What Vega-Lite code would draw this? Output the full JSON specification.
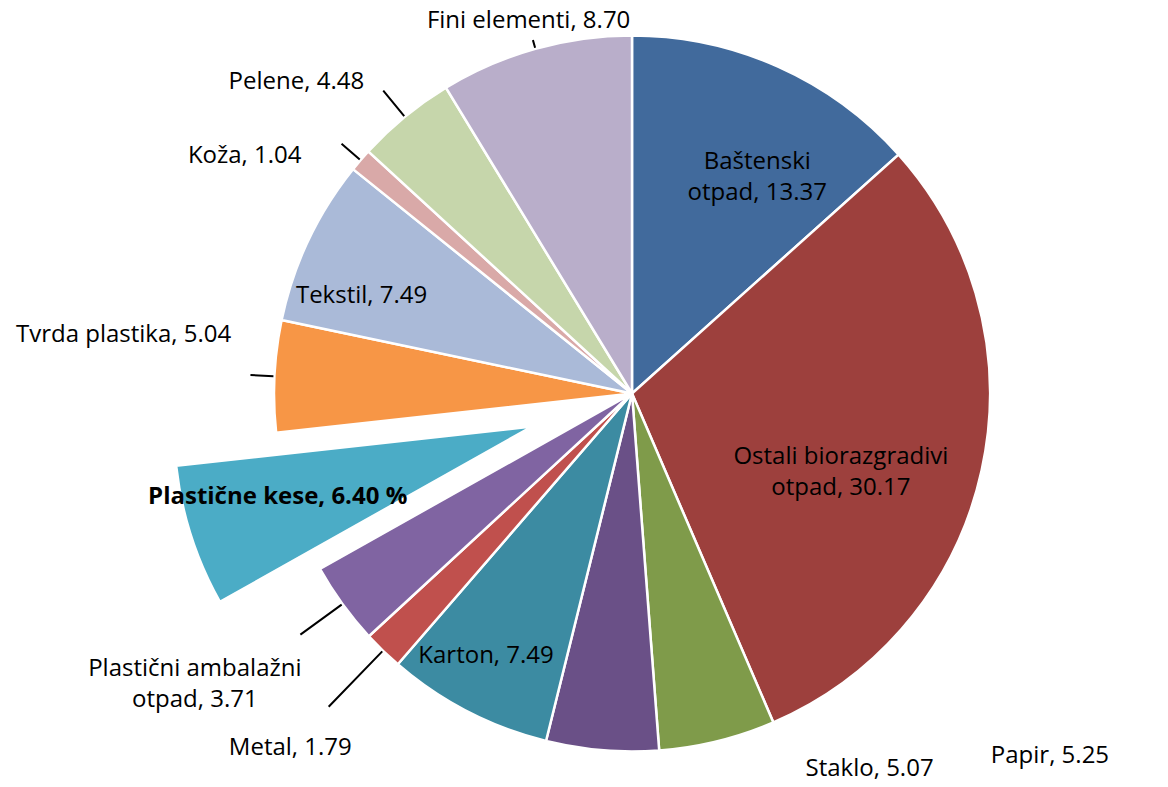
{
  "$schema": "https://vega.github.io/schema/vega-lite/v6.json",
  "width": 1072,
  "height": 787,
  "autosize": {"type": "none"},
  "padding": {"left": 96, "right": 0, "top": 0, "bottom": 0},
  "background": "white",
  "config": {"view": {"stroke": null}},
  "data": {"values": [
    {"cat": "Baštenski otpad", "value": 13.37, "label": "Baštenski\notpad, 13.37", "rank": 1},
    {"cat": "Ostali biorazgradivi otpad", "value": 30.17, "label": "Ostali biorazgradivi\notpad, 30.17", "rank": 2},
    {"cat": "Papir", "value": 5.25, "label": "Papir, 5.25", "rank": 3},
    {"cat": "Staklo", "value": 5.07, "label": "Staklo, 5.07", "rank": 4},
    {"cat": "Karton", "value": 7.49, "label": "Karton, 7.49", "rank": 5},
    {"cat": "Metal", "value": 1.79, "label": "Metal, 1.79", "rank": 6},
    {"cat": "Plastični ambalažni otpad", "value": 3.71, "label": "Plastični ambalažni\notpad, 3.71", "rank": 7},
    {"cat": "Plastične kese", "value": 6.40, "label": "Plastične kese, 6.40 %", "rank": 8},
    {"cat": "Tvrda plastika", "value": 5.04, "label": "Tvrda plastika, 5.04", "rank": 9},
    {"cat": "Tekstil", "value": 7.49, "label": "Tekstil, 7.49", "rank": 10},
    {"cat": "Koža", "value": 1.04, "label": "Koža, 1.04", "rank": 11},
    {"cat": "Pelene", "value": 4.48, "label": "Pelene, 4.48", "rank": 12},
    {"cat": "Fini elementi", "value": 8.70, "label": "Fini elementi,  8.70", "rank": 13}
  ]},
  "encoding": {
    "theta": {"field": "value", "type": "quantitative", "stack": true},
    "order": {"field": "rank", "type": "quantitative"}
  },
  "layer": [
    {
      "mark": {"type": "arc", "radius": 358, "stroke": "white", "strokeWidth": 2.5},
      "encoding": {
        "color": {"field": "cat", "type": "nominal", "legend": null,
          "scale": {
            "domain": ["Baštenski otpad", "Ostali biorazgradivi otpad", "Papir", "Staklo", "Karton", "Metal", "Plastični ambalažni otpad", "Plastične kese", "Tvrda plastika", "Tekstil", "Koža", "Pelene", "Fini elementi"],
            "range": ["#416A9C", "#9D403D", "#7F9B4A", "#6A5087", "#3C8BA2", "#C0504D", "#8064A2", "#4BACC6", "#F79646", "#AABAD8", "#D9A9A8", "#C6D6AB", "#B9AECA"]
          }},
        "opacity": {"condition": {"test": "datum.cat === 'Plastične kese'", "value": 0}, "value": 1}
      }
    },
    {
      "mark": {"type": "arc", "radius": 358, "stroke": "white", "strokeWidth": 2.5, "xOffset": -100, "yOffset": 33},
      "encoding": {
        "color": {"field": "cat", "type": "nominal", "legend": null},
        "opacity": {"condition": {"test": "datum.cat === 'Plastične kese'", "value": 1}, "value": 0}
      }
    },
    {
      "mark": {"type": "arc", "radius2": 359, "radius": 367, "padAngle": 3, "fillOpacity": 0, "stroke": "black", "strokeWidth": 2},
      "encoding": {"strokeOpacity": {"condition": {"test": "datum.cat === 'Fini elementi'", "value": 1}, "value": 0}}
    },
    {
      "mark": {"type": "arc", "radius2": 359, "radius": 392, "padAngle": 3, "fillOpacity": 0, "stroke": "black", "strokeWidth": 2},
      "encoding": {"strokeOpacity": {"condition": {"test": "datum.cat === 'Pelene'", "value": 1}, "value": 0}}
    },
    {
      "mark": {"type": "arc", "radius2": 359, "radius": 383, "padAngle": 3, "fillOpacity": 0, "stroke": "black", "strokeWidth": 2},
      "encoding": {"strokeOpacity": {"condition": {"test": "datum.cat === 'Koža'", "value": 1}, "value": 0}}
    },
    {
      "mark": {"type": "arc", "radius2": 359, "radius": 382, "padAngle": 3, "fillOpacity": 0, "stroke": "black", "strokeWidth": 2},
      "encoding": {"strokeOpacity": {"condition": {"test": "datum.cat === 'Tvrda plastika'", "value": 1}, "value": 0}}
    },
    {
      "mark": {"type": "arc", "radius2": 359, "radius": 410, "padAngle": 3, "fillOpacity": 0, "stroke": "black", "strokeWidth": 2},
      "encoding": {"strokeOpacity": {"condition": {"test": "datum.cat === 'Plastični ambalažni otpad'", "value": 1}, "value": 0}}
    },
    {
      "mark": {"type": "arc", "radius2": 359, "radius": 436, "padAngle": 3, "fillOpacity": 0, "stroke": "black", "strokeWidth": 2},
      "encoding": {"strokeOpacity": {"condition": {"test": "datum.cat === 'Metal'", "value": 1}, "value": 0}}
    },
    {
      "mark": {"type": "text", "radius": 263, "dx": 18, "dy": 9, "font": "Open Sans", "fontSize": 24, "lineHeight": 31, "lineBreak": "\n", "align": "center", "baseline": "middle", "color": "black"},
      "encoding": {"text": {"condition": {"test": "datum.cat === 'Baštenski otpad'", "field": "label"}, "value": ""}}
    },
    {
      "mark": {"type": "text", "radius": 218, "dx": -4, "dy": 17, "font": "Open Sans", "fontSize": 24, "lineHeight": 31, "lineBreak": "\n", "align": "center", "baseline": "middle", "color": "black"},
      "encoding": {"text": {"condition": {"test": "datum.cat === 'Ostali biorazgradivi otpad'", "field": "label"}, "value": ""}}
    },
    {
      "mark": {"type": "text", "radius": 553, "dx": 286, "dy": -175, "font": "Open Sans", "fontSize": 24, "lineHeight": 31, "lineBreak": "\n", "align": "center", "baseline": "middle", "color": "black"},
      "encoding": {"text": {"condition": {"test": "datum.cat === 'Papir'", "field": "label"}, "value": ""}}
    },
    {
      "mark": {"type": "text", "radius": 450, "dx": 275, "dy": -73, "font": "Open Sans", "fontSize": 24, "lineHeight": 31, "lineBreak": "\n", "align": "center", "baseline": "middle", "color": "black"},
      "encoding": {"text": {"condition": {"test": "datum.cat === 'Staklo'", "field": "label"}, "value": ""}}
    },
    {
      "mark": {"type": "text", "radius": 300, "dx": -8, "dy": -4, "font": "Open Sans", "fontSize": 24, "lineHeight": 31, "lineBreak": "\n", "align": "center", "baseline": "middle", "color": "black"},
      "encoding": {"text": {"condition": {"test": "datum.cat === 'Karton'", "field": "label"}, "value": ""}}
    },
    {
      "mark": {"type": "text", "radius": 494, "dx": 2, "dy": 0, "font": "Open Sans", "fontSize": 24, "lineHeight": 31, "lineBreak": "\n", "align": "center", "baseline": "middle", "color": "black"},
      "encoding": {"text": {"condition": {"test": "datum.cat === 'Metal'", "field": "label"}, "value": ""}}
    },
    {
      "mark": {"type": "text", "radius": 517, "dx": -19, "dy": -29, "font": "Open Sans", "fontSize": 24, "lineHeight": 31, "lineBreak": "\n", "align": "center", "baseline": "middle", "color": "black"},
      "encoding": {"text": {"condition": {"test": "datum.cat === 'Plastični ambalažni otpad'", "field": "label"}, "value": ""}}
    },
    {
      "mark": {"type": "text", "radius": 264, "dx": -103, "dy": 23, "font": "Open Sans", "fontSize": 24, "fontWeight": "bold", "lineHeight": 31, "lineBreak": "\n", "align": "center", "baseline": "middle", "color": "black"},
      "encoding": {"text": {"condition": {"test": "datum.cat === 'Plastične kese'", "field": "label"}, "value": ""}}
    },
    {
      "mark": {"type": "text", "radius": 512, "dx": 3, "dy": -34, "font": "Open Sans", "fontSize": 24, "lineHeight": 31, "lineBreak": "\n", "align": "center", "baseline": "middle", "color": "black"},
      "encoding": {"text": {"condition": {"test": "datum.cat === 'Tvrda plastika'", "field": "label"}, "value": ""}}
    },
    {
      "mark": {"type": "text", "radius": 287, "dx": -11, "dy": 25, "font": "Open Sans", "fontSize": 24, "lineHeight": 31, "lineBreak": "\n", "align": "center", "baseline": "middle", "color": "black"},
      "encoding": {"text": {"condition": {"test": "datum.cat === 'Tekstil'", "field": "label"}, "value": ""}}
    },
    {
      "mark": {"type": "text", "radius": 454, "dx": -43, "dy": 58, "font": "Open Sans", "fontSize": 24, "lineHeight": 31, "lineBreak": "\n", "align": "center", "baseline": "middle", "color": "black"},
      "encoding": {"text": {"condition": {"test": "datum.cat === 'Koža'", "field": "label"}, "value": ""}}
    },
    {
      "mark": {"type": "text", "radius": 458, "dx": -45, "dy": 42, "font": "Open Sans", "fontSize": 24, "lineHeight": 31, "lineBreak": "\n", "align": "center", "baseline": "middle", "color": "black"},
      "encoding": {"text": {"condition": {"test": "datum.cat === 'Pelene'", "field": "label"}, "value": ""}}
    },
    {
      "mark": {"type": "text", "radius": 383, "dx": 0, "dy": -4, "font": "Open Sans", "fontSize": 24, "lineHeight": 31, "lineBreak": "\n", "align": "center", "baseline": "middle", "color": "black"},
      "encoding": {"text": {"condition": {"test": "datum.cat === 'Fini elementi'", "field": "label"}, "value": ""}}
    }
  ]
}
